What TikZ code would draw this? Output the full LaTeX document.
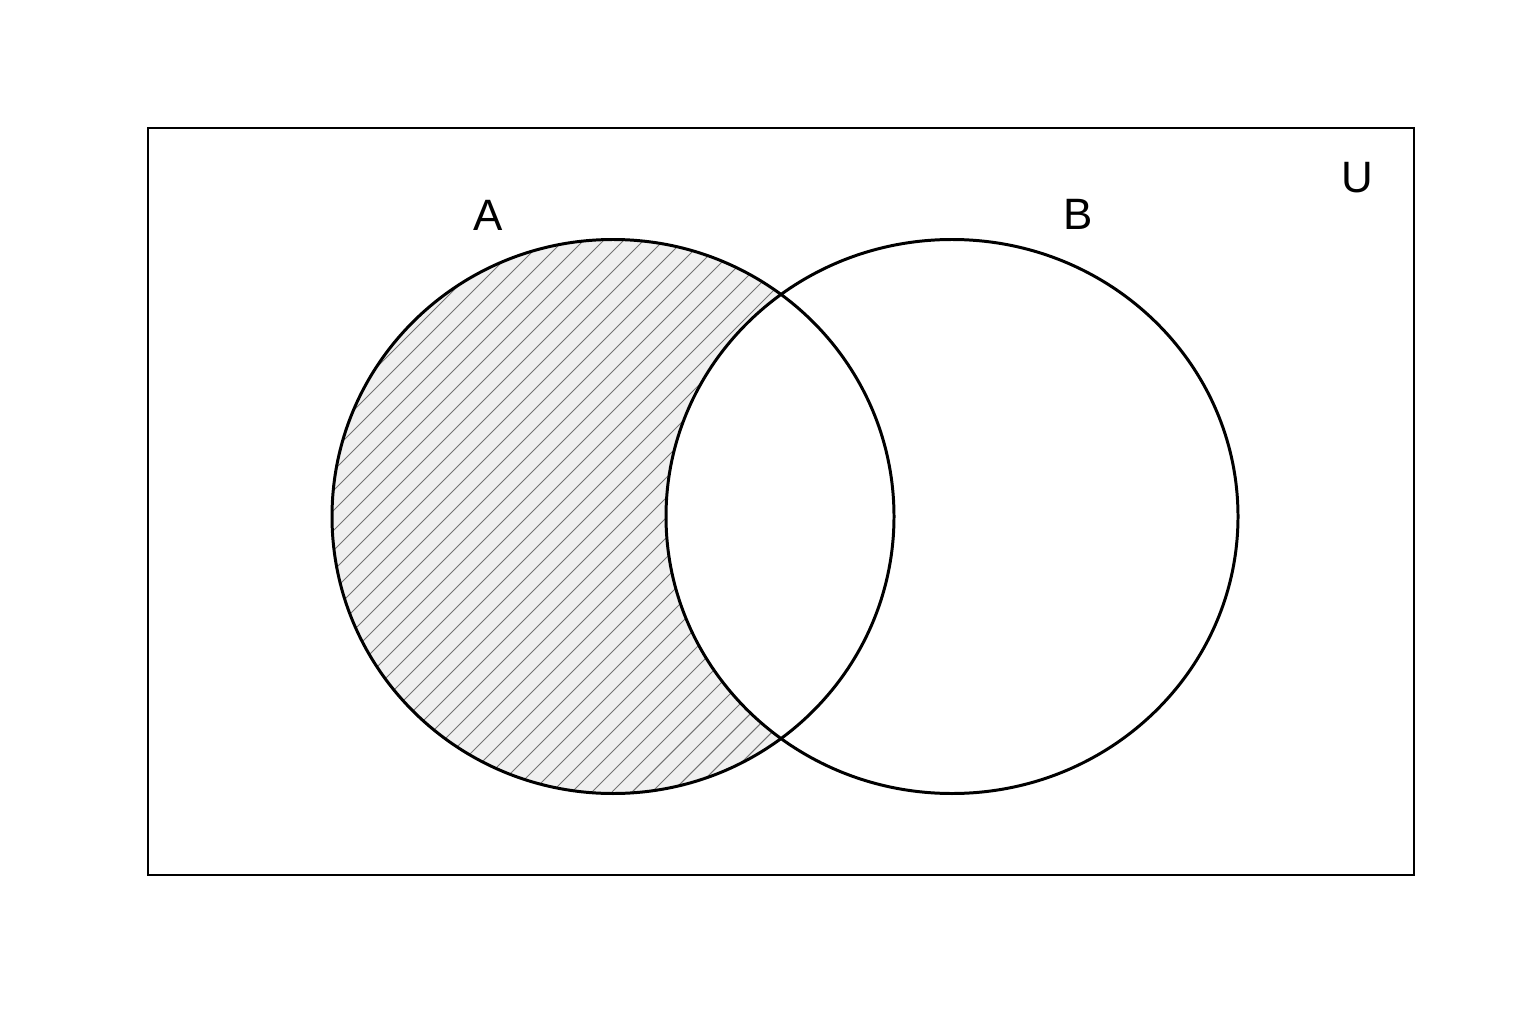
\documentclass[tikz,border=0pt]{standalone}
\usepackage{fontspec}
\setmainfont{Liberation Sans}
\usepackage{tikz}

\tikzset{
    setline/.style={line width=0.85pt, black},
    hatchline/.style={line width=0.3pt, black!55},
    setlabel/.style={font=\fontsize{12.5}{15}\selectfont, inner sep=0pt}
}

\begin{document}
\begin{tikzpicture}

\useasboundingbox (0,0) rectangle (15.36,10.24);

% Universe
\draw[line width=0.75pt] (1.48,1.49) rectangle (14.14,8.96);
\node[setlabel] (labelU) at (13.57,8.46) {U};

% A shaded and hatched
\fill[black!6] (6.13,5.075) ellipse [x radius=2.81, y radius=2.77];
\begin{scope}
    \clip (6.13,5.075) ellipse [x radius=2.81, y radius=2.77];
    \foreach \c in {-4.8,-4.6,...,7.0}
        \draw[hatchline] (1.5+\c, 1.5) -- (9.5+\c, 9.5);
\end{scope}

% B covers the overlap
\fill[white] (9.52,5.075) ellipse [x radius=2.86, y radius=2.77];

% Circle outlines
\draw[setline] (6.13,5.075) ellipse [x radius=2.81, y radius=2.77];
\draw[setline] (9.52,5.075) ellipse [x radius=2.86, y radius=2.77];

% Labels of the sets
\node[setlabel] (labelA) at (4.88,8.09) {A};
\node[setlabel] (labelB) at (10.78,8.10) {B};

\end{tikzpicture}
\end{document}
